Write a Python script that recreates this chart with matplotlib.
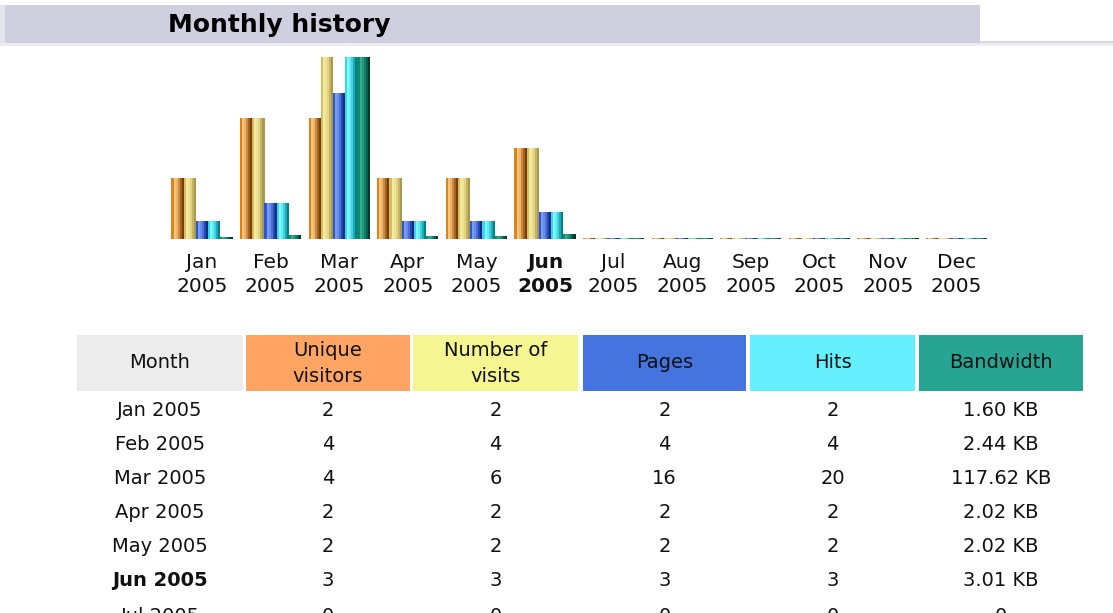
import numpy as np
import matplotlib
matplotlib.use("Agg")
import matplotlib.pyplot as plt
from matplotlib.patches import Rectangle

# data
months = ["Jan", "Feb", "Mar", "Apr", "May", "Jun",
          "Jul", "Aug", "Sep", "Oct", "Nov", "Dec"]
year = "2005"
current_month = "Jun"
unique_visitors = [2, 4, 4, 2, 2, 3, 0, 0, 0, 0, 0, 0]
visits = [2, 4, 6, 2, 2, 3, 0, 0, 0, 0, 0, 0]
pages = [2, 4, 16, 2, 2, 3, 0, 0, 0, 0, 0, 0]
hits = [2, 4, 20, 2, 2, 3, 0, 0, 0, 0, 0, 0]
bandwidth_kb = [1.60, 2.44, 117.62, 2.02, 2.02, 3.01, 0, 0, 0, 0, 0, 0]

headers = ["Month", "Unique\nvisitors", "Number of\nvisits", "Pages", "Hits", "Bandwidth"]
header_colors = ["#ECECEC", "#FFA463", "#F5F592", "#4574DE", "#66F0FF", "#27A592"]

# shaded stripes imitating the gif bars (left -> right)
shades = {
    "unique": ["#DC841C", "#F8C57C", "#F0B466", "#C98C48", "#A4641E", "#7A3C00"],
    "visits": ["#D6BE5C", "#F3EAA4", "#EEE294", "#E2D484", "#C8B264", "#A89A4C"],
    "pages": ["#2858D8", "#7C9CEE", "#6A8CE8", "#4A70DA", "#2848B0", "#102A84"],
    "hits": ["#34D8EA", "#84F6FF", "#62ECF8", "#40D0E0", "#20A8B8", "#008282"],
    "bandwidth": ["#0E8A68", "#34AA92", "#22987E", "#108068", "#08604A", "#003A2A"],
}

W, H = 1113, 613
fig = plt.figure(figsize=(W / 100, H / 100), dpi=100)
fig.patch.set_facecolor("white")

# overlay axes in pixel coordinates for page furniture and text
ax = fig.add_axes([0, 0, 1, 1])
ax.set_xlim(0, W)
ax.set_ylim(H, 0)
ax.axis("off")

# title bar
ax.add_patch(Rectangle((0, 5), 5, 39, color="#E4E4EE", lw=0))
ax.add_patch(Rectangle((5, 5), 975, 38, color="#CFCFE0", lw=0))
ax.add_patch(Rectangle((980, 41), 133, 3, color="#D6D6E4", lw=0))
ax.add_patch(Rectangle((0, 43), W, 3, color="#ECECF2", lw=0))
ax.text(168, 25, "Monthly history", fontsize=18, fontweight="bold",
        ha="left", va="center", color="#000000")

# bar chart axes: month index on x, normalised height on y
base_px, top_px = 239, 57
x0_px, step_px = 202, 68.6
axb = fig.add_axes([0, (H - base_px) / H, 1, (base_px - top_px) / H])
axb.set_xlim(-x0_px / step_px, (W - x0_px) / step_px)
axb.set_ylim(0, 1)
axb.axis("off")

x = np.arange(len(months))
vmax = max(visits)
hmax = max(hits)
bmax = max(bandwidth_kb)
series = [
    ("unique", np.array(unique_visitors) / vmax),
    ("visits", np.array(visits) / vmax),
    ("pages", np.array(pages) / hmax),
    ("hits", np.array(hits) / hmax),
    ("bandwidth", np.array(bandwidth_kb) / bmax),
]
bw = 12.2 / step_px
min_h = 1.5 / (base_px - top_px)
for k, (name, h) in enumerate(series):
    h = np.maximum(h, min_h)
    left = x + (k - 2.5) * bw
    cols = shades[name]
    sw = bw / len(cols)
    for j, c in enumerate(cols):
        axb.bar(left + (j + 0.5) * sw, h, width=sw * 1.02, color=c, lw=0)

# month labels under the bars
for i, m in enumerate(months):
    cx = x0_px + step_px * i
    fw = "bold" if m == current_month else "normal"
    ax.text(cx, 262, m, fontsize=14.5, ha="center", va="center", fontweight=fw, color="#111111")
    ax.text(cx, 287, year, fontsize=14.5, ha="center", va="center", fontweight=fw, color="#111111")

# table header
col_left = [77, 246, 413, 583, 750, 919]
col_right = [243, 410, 578, 746, 915, 1083]
col_center = [(l + r) / 2 for l, r in zip(col_left, col_right)]
for l, r, c, hd in zip(col_left, col_right, header_colors, headers):
    ax.add_patch(Rectangle((l, 335), r - l, 56, color=c, lw=0))
    if "\n" in hd:
        a, b = hd.split("\n")
        ax.text((l + r) / 2, 350, a, fontsize=14, ha="center", va="center", color="#111111")
        ax.text((l + r) / 2, 376, b, fontsize=14, ha="center", va="center", color="#111111")
    else:
        ax.text((l + r) / 2, 363, hd, fontsize=14, ha="center", va="center", color="#111111")

# table rows (the 7th one is cut by the page edge, as on the page)
row_y0, row_step = 411, 34
for i in range(7):
    y = row_y0 + row_step * i
    if bandwidth_kb[i] > 0:
        bw_txt = f"{bandwidth_kb[i]:.2f} KB"
    else:
        bw_txt = "0"
    vals = [f"{months[i]} {year}", str(unique_visitors[i]), str(visits[i]),
            str(pages[i]), str(hits[i]), bw_txt]
    for j, (cx, v) in enumerate(zip(col_center, vals)):
        fw = "bold" if (j == 0 and months[i] == current_month) else "normal"
        ax.text(cx, y if i < 6 else 617, v, fontsize=14, ha="center", va="center",
                fontweight=fw, color="#111111")

fig.savefig("out.png", dpi=100)
